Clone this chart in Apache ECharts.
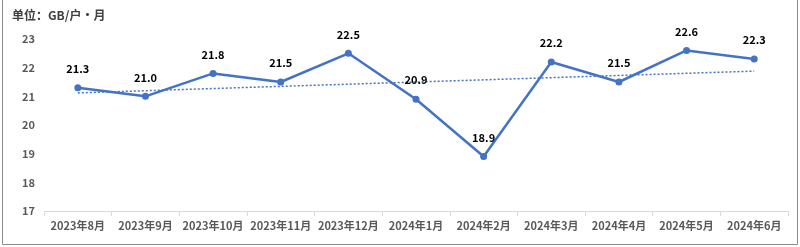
<!DOCTYPE html>
<html><head><meta charset="utf-8">
<script src="https://cdn.jsdelivr.net/npm/echarts@6/dist/echarts.min.js"></script>
<style>html,body{margin:0;padding:0;background:#fff}#c{width:800px;height:247px;}</style>
</head><body><div id="c"></div>
<script>
var categories = ['2023年8月','2023年9月','2023年10月','2023年11月','2023年12月','2024年1月','2024年2月','2024年3月','2024年4月','2024年5月','2024年6月'];
var values = [21.3, 21.0, 21.8, 21.5, 22.5, 20.9, 18.9, 22.2, 21.5, 22.6, 22.3];
var trendValues = [21.12, null, null, null, null, null, null, null, null, null, 21.88];
var yTicks = [17, 18, 19, 20, 21, 22, 23];
var unitTitle = '单位：GB/户·月';

var chart = echarts.init(document.getElementById('c'), null, {renderer: 'canvas'});
var font = '"Microsoft YaHei","Noto Sans CJK SC","DejaVu Sans",sans-serif';
chart.setOption({
  animation: false,
  backgroundColor: '#fff',
  graphic: [
    {type: 'rect', shape: {x: 2.5, y: -2, width: 795, height: 246.5}, style: {fill: 'none', stroke: '#8c8c8c', lineWidth: 1}},
    {type: 'text', left: 12, top: 9, style: {text: unitTitle, font: 'bold 12px ' + font, fill: '#404040'}}
  ],
  grid: {left: 44, right: 12, top: 39, bottom: 36, containLabel: false},
  xAxis: {
    type: 'category', data: categories, boundaryGap: true,
    axisLine: {lineStyle: {color: '#d9d9d9', width: 1}},
    axisTick: {show: true, length: 5, lineStyle: {color: '#d9d9d9'}},
    axisLabel: {color: '#595959', fontWeight: 'bold', fontSize: 11, fontFamily: font, margin: 9, interval: 0}
  },
  yAxis: {
    type: 'value', min: yTicks[0], max: yTicks[yTicks.length - 1], interval: 1,
    splitLine: {show: false}, axisLine: {show: false}, axisTick: {show: false},
    axisLabel: {color: '#595959', fontWeight: 'bold', fontSize: 11, fontFamily: font, margin: 9}
  },
  series: [
    {
      type: 'line', data: values, color: '#4472C4',
      lineStyle: {width: 2.5, color: '#4472C4'},
      symbol: 'circle', symbolSize: 7,
      itemStyle: {color: '#4472C4'},
      label: {show: true, position: 'top', distance: 10, color: '#000', fontWeight: 'bold', fontSize: 11, fontFamily: font,
        formatter: function (p) { return p.value.toFixed(1); }},
      z: 3
    },
    {
      type: 'line', data: trendValues, connectNulls: true, symbol: 'none',
      lineStyle: {width: 1.5, color: '#4472C4', type: [2, 2]},
      z: 2
    }
  ]
});
</script></body></html>
